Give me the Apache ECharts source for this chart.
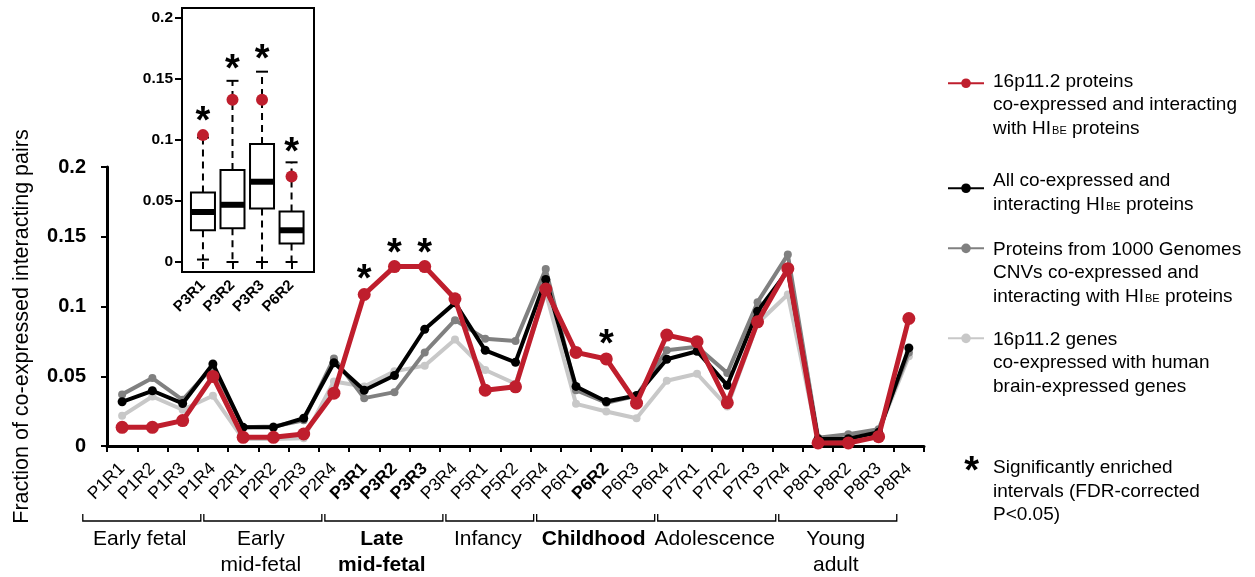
<!DOCTYPE html>
<html><head><meta charset="utf-8">
<script src="https://cdn.jsdelivr.net/npm/echarts@6/dist/echarts.min.js"></script>
<style>html,body{margin:0;padding:0;background:#fff}#c{width:1255px;height:577px}</style>
</head><body><div id="c"></div>
<script>
// ---------- DATA ----------
const categories = ['P1R1','P1R2','P1R3','P1R4','P2R1','P2R2','P2R3','P2R4','P3R1','P3R2','P3R3','P3R4','P5R1','P5R2','P5R4','P6R1','P6R2','P6R3','P6R4','P7R1','P7R2','P7R3','P7R4','P8R1','P8R2','P8R3','P8R4'];
const boldCategories = ['P3R1','P3R2','P3R3','P6R2'];
const red16p = [0.0134,0.0134,0.0182,0.0499,0.0062,0.0062,0.0086,0.0379,0.1086,0.1286,0.1286,0.1055,0.0400,0.0424,0.1125,0.0671,0.0624,0.0307,0.0795,0.0748,0.0310,0.0890,0.1271,0.0022,0.0022,0.0067,0.0914];
const blackAll = [0.0317,0.0396,0.0305,0.0588,0.0134,0.0134,0.0199,0.0597,0.0400,0.0505,0.0837,0.1026,0.0686,0.0600,0.1194,0.0427,0.0319,0.0362,0.0622,0.0679,0.0435,0.0966,0.1256,0.0050,0.0052,0.0098,0.0703];
const darkGray1000G = [0.0370,0.0487,0.0331,0.0570,0.0135,0.0140,0.0185,0.0628,0.0343,0.0386,0.0671,0.0902,0.0768,0.0752,0.1268,0.0400,0.0310,0.0360,0.0686,0.0712,0.0523,0.1031,0.1372,0.0060,0.0084,0.0120,0.0670];
const lightGrayGenes = [0.0216,0.0355,0.0260,0.0360,0.0050,0.0050,0.0055,0.0462,0.0427,0.0535,0.0576,0.0763,0.0545,0.0446,0.1100,0.0302,0.0247,0.0199,0.0468,0.0518,0.0283,0.0880,0.1086,0.0040,0.0055,0.0105,0.0643];
const yTicks = [0, 0.05, 0.1, 0.15, 0.2];
// significance asterisks (category, height of asterisk centre)
const starCats = ['P3R1','P3R2','P3R3','P6R2'];
const starValues = [0.1254,0.1434,0.1434,0.0784];
// developmental periods
const periodNames = ['Early fetal','Early\nmid-fetal','Late\nmid-fetal','Infancy','Childhood','Adolescence','Young\nadult'];
const periodFirst = ['P1R1','P2R1','P3R1','P5R1','P6R1','P7R1','P8R1'];
const periodLast  = ['P1R4','P2R4','P3R4','P5R4','P6R4','P7R4','P8R4'];
const periodBold  = [false,false,true,false,true,false,false];
// inset boxplot
const insetCats = ['P3R1','P3R2','P3R3','P6R2'];
const insetMin = [0.002,0,0,0];
const insetQ1 = [0.026,0.0277,0.0439,0.0151];
const insetMedian = [0.041,0.0469,0.0658,0.026];
const insetQ3 = [0.057,0.0754,0.0967,0.0414];
const insetMax = [0.102,0.1485,0.156,0.0817];
const insetObserved = [0.104,0.133,0.133,0.070];
const insetStars = [0.122,0.1644,0.1726,0.0959];
const insetYTicks = [0, 0.05, 0.1, 0.15, 0.2];

// ---------- STYLE ----------
const FONT = '"Liberation Sans", Arial, Helvetica, sans-serif';
const RED = '#BF1E2D', BLACK = '#000000', DGRAY = '#808080', LGRAY = '#C8C8C8';
const names = ['16p11.2 proteins', 'All co-expressed', '1000 Genomes CNVs', '16p11.2 genes'];
const legendRich = {
  [names[0]]: '{n|16p11.2 proteins}\n{n|co-expressed and interacting}\n{n|with HI}{s|BE}{n| proteins}',
  [names[1]]: '{n|All co-expressed and}\n{n|interacting HI}{s|BE}{n| proteins}',
  [names[2]]: '{n|Proteins from 1000 Genomes}\n{n|CNVs co-expressed and}\n{n|interacting with HI}{s|BE}{n| proteins}',
  [names[3]]: '{n|16p11.2 genes}\n{n|co-expressed with human}\n{n|brain-expressed genes}'
};
const LH = 23.5;
const LFS = 19;
function legendFor(name, top, padTop) {
  return {
    data: [name], left: 947, top: top, padding: 0, itemGap: 0,
    itemWidth: 36, itemHeight: 12, selectedMode: false,
    formatter: n => legendRich[n],
    textStyle: {
      color: '#000', fontFamily: FONT, fontSize: LFS, lineHeight: LH,
      padding: [padTop, 0, 0, 4],
      rich: {
        n: {fontFamily: FONT, fontSize: LFS, lineHeight: LH, color: '#000'},
        s: {fontFamily: FONT, fontSize: 11, lineHeight: LH, verticalAlign: 'middle', padding: [5, 0, 0, 1], color: '#000'}
      }
    }
  };
}

const chart = echarts.init(document.getElementById('c'), null, {renderer: 'canvas'});

function lineSeries(name, data, color, width, size, z) {
  return {
    name, type: 'line', data, xAxisIndex: 0, yAxisIndex: 0, z,
    symbol: 'circle', symbolSize: size, showSymbol: true,
    lineStyle: {color, width}, itemStyle: {color, opacity: 1},
    emphasis: {disabled: true}, animation: false
  };
}

const STAR_FS = 38;
const option = {
  animation: false,
  backgroundColor: '#fff',
  textStyle: {fontFamily: FONT},
  grid: [
    {left: 107, right: 331, top: 167, bottom: 131},
    {left: 182, top: 8, width: 132, height: 264, show: true, borderColor: '#000', borderWidth: 2, backgroundColor: '#fff', z: 5}
  ],
  xAxis: [
    {
      type: 'category', gridIndex: 0, data: categories, boundaryGap: true,
      axisLine: {lineStyle: {color: '#000', width: 3}},
      axisTick: {show: true, length: 6, lineStyle: {color: '#000', width: 2}, alignWithLabel: false},
      axisLabel: {
        interval: 0, rotate: 45, margin: 20, color: '#000', fontSize: 17.5, fontFamily: FONT,
        formatter: v => boldCategories.includes(v) ? '{b|' + v + '}' : '{r|' + v + '}',
        rich: {
          b: {fontWeight: 'bold', fontSize: 17.5, fontFamily: FONT, color: '#000'},
          r: {fontSize: 17.5, fontFamily: FONT, color: '#000'}
        }
      },
      splitLine: {show: false}
    },
    {
      type: 'value', gridIndex: 1, min: 0.29, max: 4.76, z: 6,
      axisLine: {show: false},
      axisTick: {show: true, length: 7, customValues: [1,2,3,4], lineStyle: {color: '#000', width: 2}},
      axisLabel: {
        customValues: [1,2,3,4], rotate: 45, margin: 11, color: '#000', fontSize: 15, fontWeight: 'bold', fontFamily: FONT,
        formatter: v => insetCats[Math.round(v) - 1]
      },
      splitLine: {show: false}
    }
  ],
  yAxis: [
    {
      type: 'value', gridIndex: 0, min: 0, max: 0.2, interval: 0.05,
      name: 'Fraction of co-expressed interacting pairs', nameLocation: 'middle', nameGap: 74, nameRotate: 90,
      nameTextStyle: {fontSize: 21.5, color: '#000', fontFamily: FONT, padding: [0, 40, 0, 0]},
      axisLine: {show: true, lineStyle: {color: '#000', width: 3}},
      axisTick: {show: true, length: 6, lineStyle: {color: '#000', width: 2}},
      axisLabel: {color: '#000', fontSize: 20, fontWeight: 'bold', fontFamily: FONT, margin: 21,
        formatter: v => String(+v.toFixed(2))},
      splitLine: {show: false}
    },
    {
      type: 'value', gridIndex: 1, min: -0.0082, max: 0.2082, z: 6,
      axisLine: {show: false},
      axisTick: {show: true, length: 7, customValues: insetYTicks, lineStyle: {color: '#000', width: 2}},
      axisLabel: {customValues: insetYTicks, color: '#000', fontSize: 15.5, fontWeight: 'bold', fontFamily: FONT, margin: 9,
        formatter: v => String(+(+v).toFixed(2))},
      splitLine: {show: false}
    }
  ],
  legend: [
    legendFor(names[0], 26, 44),
    legendFor(names[1], 160, 9.5),
    legendFor(names[2], 188.6, 49),
    legendFor(names[3], 278.6, 49)
  ],
  graphic: [
    {type: 'text', x: 971.7, y: 473, z: 100, style: {text: '*', font: 'bold ' + STAR_FS + 'px ' + FONT, fill: '#000', align: 'center', verticalAlign: 'middle'}},
    {type: 'text', left: 993, top: 456.5, z: 100, style: {text: 'Significantly enriched\nintervals (FDR-corrected\nP<0.05)', font: LFS + 'px ' + FONT, lineHeight: 23.5, fill: '#000'}}
  ],
  series: [
    lineSeries(names[3], lightGrayGenes, LGRAY, 4, 8, 2),
    lineSeries(names[2], darkGray1000G, DGRAY, 4, 8, 3),
    lineSeries(names[1], blackAll, BLACK, 4, 9, 4),
    lineSeries(names[0], red16p, RED, 5, 13, 5),
    {
      name: 'stars', type: 'scatter', xAxisIndex: 0, yAxisIndex: 0, z: 6,
      data: starCats.map((c, i) => [c, starValues[i]]),
      symbolSize: 1, itemStyle: {color: 'rgba(0,0,0,0)', opacity: 1},
      label: {show: true, formatter: '*', position: 'inside', offset: [0, 9], fontSize: STAR_FS, fontWeight: 'bold', color: '#000', opacity: 1, fontFamily: FONT},
      emphasis: {disabled: true}, silent: true
    },
    {
      name: 'periods', type: 'custom', xAxisIndex: 0, yAxisIndex: 0, z: 6, silent: true,
      data: periodNames.map((n, i) => [categories.indexOf(periodFirst[i]), categories.indexOf(periodLast[i]), 0, i]),
      encode: {x: [0, 1], y: 2},
      renderItem: function (params, api) {
        const s = api.value(0), e = api.value(1), idx = api.value(3);
        const w = api.size([1, 0])[0];
        const p1 = api.coord([s, 0]), p2 = api.coord([e, 0]);
        const xl = p1[0] - 1.3 * w, xr = p2[0] - 0.4 * w;
        const yb = p1[1] + 75;
        const bold = periodBold[idx];
        return {
          type: 'group',
          children: [
            {type: 'polyline', shape: {points: [[xl, yb - 7], [xl, yb], [xr, yb], [xr, yb - 7]]},
             style: {stroke: '#000', lineWidth: 1.3, fill: null}},
            {type: 'text', x: (xl + xr) / 2 - 2, y: yb + 5,
             style: {text: periodNames[idx], fill: '#000', font: (bold ? 'bold ' : '') + '21px ' + FONT,
                     align: 'center', verticalAlign: 'top', lineHeight: 26}}
          ]
        };
      }
    },
    {
      name: 'insetBox', type: 'custom', xAxisIndex: 1, yAxisIndex: 1, z: 10, silent: true,
      data: insetCats.map((c, i) => [i + 1, insetMin[i], insetQ1[i], insetMedian[i], insetQ3[i], insetMax[i]]),
      encode: {x: 0, y: [1, 2, 3, 4, 5]},
      renderItem: function (params, api) {
        const x = api.value(0);
        const cx = api.coord([x, 0])[0];
        const yMin = api.coord([x, api.value(1)])[1];
        const yQ1 = api.coord([x, api.value(2)])[1];
        const yMed = api.coord([x, api.value(3)])[1];
        const yQ3 = api.coord([x, api.value(4)])[1];
        const yMax = api.coord([x, api.value(5)])[1];
        const bw = 24, cw = 12;
        const dash = {stroke: '#000', lineWidth: 2, lineDash: [7, 5]};
        const solid = {stroke: '#000', lineWidth: 2};
        return {
          type: 'group',
          children: [
            {type: 'line', shape: {x1: cx, y1: yQ3, x2: cx, y2: yMax}, style: dash},
            {type: 'line', shape: {x1: cx, y1: yQ1, x2: cx, y2: yMin}, style: dash},
            {type: 'line', shape: {x1: cx - cw / 2, y1: yMax, x2: cx + cw / 2, y2: yMax}, style: solid},
            {type: 'line', shape: {x1: cx - cw / 2, y1: yMin, x2: cx + cw / 2, y2: yMin}, style: solid},
            {type: 'rect', shape: {x: cx - bw / 2, y: yQ3, width: bw, height: yQ1 - yQ3}, style: {fill: '#fff', stroke: '#000', lineWidth: 2}},
            {type: 'line', shape: {x1: cx - bw / 2, y1: yMed, x2: cx + bw / 2, y2: yMed}, style: {stroke: '#000', lineWidth: 6}}
          ]
        };
      }
    },
    {
      name: 'insetObserved', type: 'scatter', xAxisIndex: 1, yAxisIndex: 1, z: 11, silent: true,
      data: insetObserved.map((v, i) => [i + 1, v]),
      symbol: 'circle', symbolSize: 12, itemStyle: {color: RED, opacity: 1}
    },
    {
      name: 'insetStars', type: 'scatter', xAxisIndex: 1, yAxisIndex: 1, z: 11, silent: true,
      data: insetStars.map((v, i) => [i + 1, v]),
      symbolSize: 1, itemStyle: {color: 'rgba(0,0,0,0)', opacity: 1},
      label: {show: true, formatter: '*', position: 'inside', offset: [0, 9], fontSize: STAR_FS, fontWeight: 'bold', color: '#000', opacity: 1, fontFamily: FONT}
    }
  ]
};
chart.setOption(option);
</script>
</body></html>
